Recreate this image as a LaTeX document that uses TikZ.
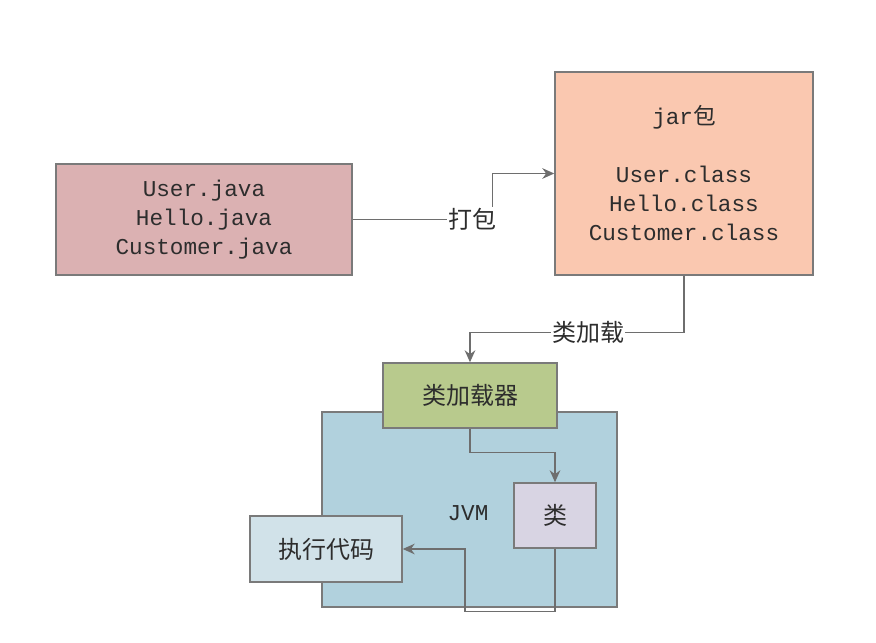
\documentclass[tikz,border=0pt]{standalone}
\usepackage{fontspec}
\setmonofont{Liberation Mono}
\newfontfamily\cjk{Noto Sans CJK SC}
\usetikzlibrary{arrows.meta}

\definecolor{javafill}{RGB}{219,177,178}
\definecolor{jarfill}{RGB}{250,200,176}
\definecolor{loaderfill}{RGB}{184,202,141}
\definecolor{jvmfill}{RGB}{177,209,221}
\definecolor{classfill}{RGB}{216,212,227}
\definecolor{execfill}{RGB}{209,226,233}
\definecolor{edgegray}{RGB}{122,122,122}
\definecolor{linkgray}{RGB}{110,110,110}
\definecolor{txtgray}{RGB}{45,45,45}

\tikzset{
  box/.style={draw=edgegray, line width=1.1pt, rectangle, inner sep=0pt,
    text=txtgray, align=center},
  codetext/.style={font=\fontsize{17}{21.75}\selectfont\ttfamily},
  cjktext/.style={font=\fontsize{18}{22}\selectfont\cjk},
  link/.style={draw=linkgray, line width=1pt, -{Stealth[length=9pt,width=8pt]}},
  lbl/.style={fill=white, inner sep=1pt, text=txtgray, cjktext}
}

\begin{document}
\begin{tikzpicture}[x=0.75pt, y=-0.75pt]
\useasboundingbox (0,0) rectangle (876,643);

% source files and the jar
\node[box, codetext, fill=javafill, minimum width=222pt, minimum height=83.25pt] (java) at (204,219.5)
  {User.java\\Hello.java\\Customer.java};
\node[box, codetext, fill=jarfill, minimum width=193.5pt, minimum height=152.25pt] (jar) at (684,173.5)
  {jar{\cjk 包}\\[21.75pt]User.class\\Hello.class\\Customer.class};

% the JVM and what sits on it
\node[box, fill=jvmfill, minimum width=221.25pt, minimum height=146.25pt] (jvm) at (469.5,509.5) {};
\node[codetext, text=txtgray] (jvmlabel) at (468,513) {JVM};
\node[box, cjktext, fill=loaderfill, minimum width=130.5pt, minimum height=48.75pt] (loader) at (470,395.5) {类加载器};
\node[box, cjktext, fill=classfill, minimum width=61.5pt, minimum height=48.75pt] (cls) at (555,515.5) {类};
\node[box, cjktext, fill=execfill, minimum width=114pt, minimum height=49.5pt] (exec) at (326,549) {执行代码};

% connectors
\draw[link] (java.east) -- node[lbl, pos=0.857] {打包} ++(140,0) |- (jar.west);
\draw[link] (jar.south) -- ++(0,57) -| node[lbl, pos=0.224] {类加载} (loader.north);
\draw[link] (loader.south) -- ++(0,24) -| (cls.north);
\draw[link] (cls.south) |- ++(-90,63) |- (exec.east);
\end{tikzpicture}
\end{document}
